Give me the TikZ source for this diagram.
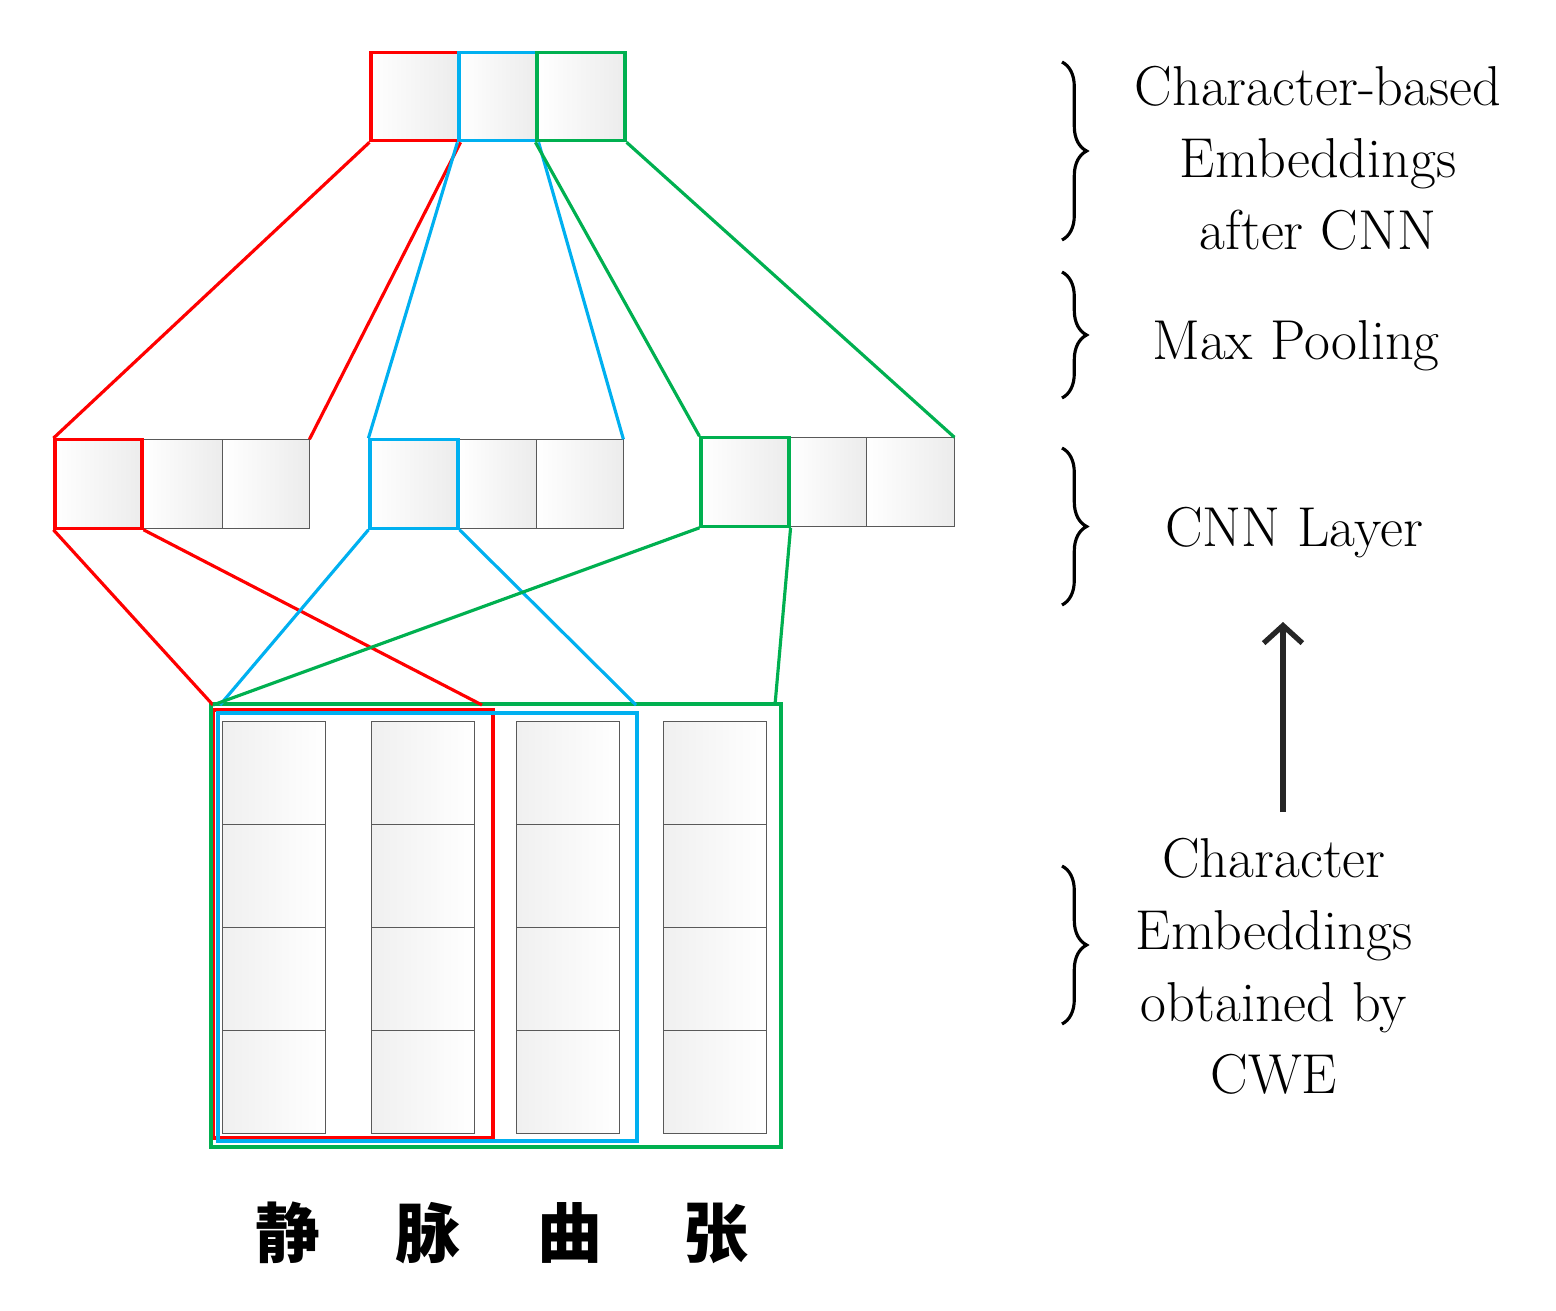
\documentclass[tikz,border=0pt]{standalone}
\usepackage{fontspec}
\newfontfamily\cjk{Noto Sans CJK SC}
\usetikzlibrary{decorations.pathreplacing,arrows.meta}
\definecolor{cred}{HTML}{FF0000}
\definecolor{cblue}{HTML}{00B0F0}
\definecolor{cgreen}{HTML}{00B050}
\begin{document}
\begin{tikzpicture}[x=0.02cm,y=-0.02cm,
  box/.style={draw=gray!70!black,line width=0.5pt,left color=white,right color=gray!15,inner sep=0pt,
     minimum width=#1,minimum height=1.77cm},
  box/.default=1.6cm,
  cell/.style={draw=gray!70!black,line width=0.5pt,left color=gray!12,right color=white,inner sep=0pt,minimum width=2.06cm,minimum height=2.06cm},
  ln/.style={line width=1.8pt},
  lab/.style={font=\fontsize{32}{41}\selectfont,align=center},
  br/.style={decorate,decoration={brace,amplitude=14pt},line width=1.8pt}]
\useasboundingbox (0,0) rectangle (1556,1311);
% top
\node[box=1.76cm,draw=cred,ln] (t1) at (415,96.5) {};
\node[box=1.56cm,draw=cblue,ln] (t2) at (498,96.5) {};
\node[box=1.76cm,draw=cgreen,ln] (t3) at (581,96.5) {};
% middle group 1
\node[box=1.6cm] (a2) at (182,484) {};
\node[box=1.74cm] (a3) at (265.5,484) {};
\node[box=1.74cm,draw=cred,ln] (a1) at (98.5,484) {};
% group 2
\node[box=1.56cm] (b2) at (497,484) {};
\node[box=1.74cm] (b3) at (579.5,484) {};
\node[box=1.76cm,draw=cblue,ln] (b1) at (414,484) {};
% group 3
\node[box=1.54cm] (c2) at (827.5,482) {};
\node[box=1.76cm] (c3) at (910,482) {};
\node[box=1.76cm,draw=cgreen,ln] (c1) at (745,482) {};
% bottom cells
\foreach \x [count=\i] in {274,422.5,567.5,714.5}{
  \foreach \y [count=\j] in {772.5,875.5,978.5,1081.5}{
    \node[cell] (e\i\j) at (\x,\y) {};
  }
}
\node[draw=cred,ln,minimum width=5.6cm,minimum height=8.56cm,inner sep=0pt] (R) at (353,924) {};
\node[draw=cblue,ln,minimum width=8.38cm,minimum height=8.56cm,inner sep=0pt] (B) at (427.5,927) {};
\node[draw=cgreen,ln,minimum width=11.4cm,minimum height=8.86cm,inner sep=0pt] (G) at (496,925.5) {};
% connectors top-middle
\draw[cred,ln] (t1.south west) -- (a1.north west);
\draw[cred,ln] (t1.south east) -- (a3.north east);
\draw[cblue,ln] (t2.south west) -- (b1.north west);
\draw[cblue,ln] (t2.south east) -- (b3.north east);
\draw[cgreen,ln] (t3.south west) -- (c1.north west);
\draw[cgreen,ln] (t3.south east) -- (c3.north east);
% connectors middle-bottom
\coordinate (p1) at (213,705);
\coordinate (p2) at (482,705);
\coordinate (p3) at (220,705);
\coordinate (p4) at (636,705);
\coordinate (p5) at (775,705);
\draw[cred,ln] (a1.south west) -- (p1);
\draw[cred,ln] (a1.south east) -- (p2);
\draw[cblue,ln] (b1.south west) -- (p3);
\draw[cblue,ln] (b1.south east) -- (p4);
\draw[cgreen,ln] (c1.south west) -- (p1);
\draw[cgreen,ln] (c1.south east) -- (p5);
% chars
\foreach \x/\c [count=\i] in {288/静,428/脉,570/曲,716/张}
  \node[font=\cjk\bfseries\fontsize{37}{40}\selectfont] (ch\i) at (\x,1233) {\c};
% braces
\draw[br] (1062,62) -- (1062,240);
\draw[br] (1062,272) -- (1062,398);
\draw[br] (1062,448) -- (1062,605);
\draw[br] (1062,866) -- (1062,1024);
\node[lab] (l1) at (1318,158) {Character-based\\Embeddings\\after CNN};
\node[lab] (l2) at (1296,346) {Max Pooling};
\node[lab] (l3) at (1294,533) {CNN Layer};
\node[lab] (l4) at (1274,966) {Character\\Embeddings\\obtained by\\CWE};
\coordinate (ab) at (1283,812);
\coordinate (at) at (1283,622);
\draw[line width=3pt,gray!30!black,-{Straight Barb[length=10pt,width=22pt]}] (ab) -- (at);
\end{tikzpicture}
\end{document}
